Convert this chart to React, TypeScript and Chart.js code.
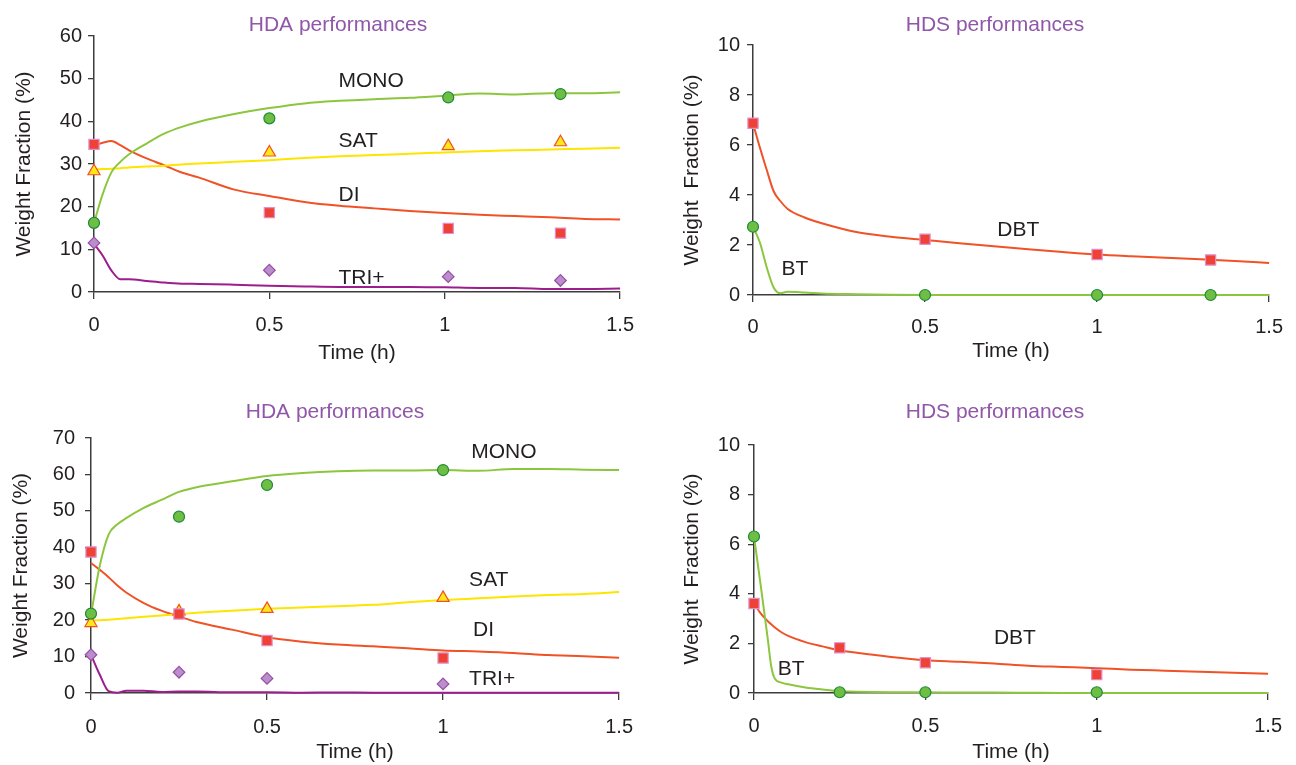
import React, { useEffect, useRef } from "react";
import { Chart, registerables } from "chart.js";
Chart.register(...registerables);

const FONT = "'Liberation Sans', Arial, Helvetica, sans-serif";
const TITLE_COLOR = "#9057a9";
const INK = "#231f20";
const AXIS = "#3c3c3c";

// ---------- shared ticks ----------
const timeTicks = [0, 0.5, 1, 1.5];
const hdaTopYTicks = [0, 10, 20, 30, 40, 50, 60];
const hdaBottomYTicks = [0, 10, 20, 30, 40, 50, 60, 70];
const hdsYTicks = [0, 2, 4, 6, 8, 10];

// ---------- top-left: HDA performances ----------
const hdaTopTime = [0, 0.025, 0.05, 0.075, 0.1, 0.15, 0.2, 0.25, 0.3, 0.4, 0.5, 0.6, 0.7, 0.8, 0.9, 1.0, 1.1, 1.2, 1.3, 1.4, 1.5];
const hdaTopMono = [16.2, 23, 28.1, 30.5, 32.3, 34.8, 37.1, 38.7, 39.9, 41.7, 43.1, 44.2, 44.8, 45.2, 45.5, 46.0, 46.5, 46.3, 46.6, 46.6, 46.8];
const hdaTopSat = [28.7, 28.8, 28.9, 29.0, 29.2, 29.4, 29.6, 29.9, 30.1, 30.5, 30.9, 31.4, 31.8, 32.1, 32.4, 32.7, 33.0, 33.2, 33.4, 33.6, 33.8];
const hdaTopDi = [34.4, 35.0, 35.4, 34.4, 33.2, 31.3, 29.7, 28.0, 26.8, 24.0, 22.5, 21.1, 20.2, 19.6, 19.0, 18.5, 18.1, 17.8, 17.5, 17.1, 17.0];
const hdaTopTri = [11.3, 8.5, 5.0, 3.0, 3.0, 2.6, 2.2, 1.95, 1.9, 1.7, 1.45, 1.3, 1.2, 1.2, 1.2, 1.1, 0.95, 0.95, 0.7, 0.7, 0.8];
const hdaTopExpTime = [0, 0.5, 1.01, 1.33];
const hdaTopExpMono = [16.2, 40.7, 45.6, 46.4];
const hdaTopExpSat = [28.3, 32.7, 34.2, 35.1];
const hdaTopExpDi = [34.6, 18.6, 14.9, 13.8];
const hdaTopExpTri = [11.5, 5.1, 3.6, 2.7];
const hdaTopLabelText = ["MONO", "SAT", "DI", "TRI+"];
const hdaTopLabelX = [0.697, 0.697, 0.697, 0.697];
const hdaTopLabelY = [49.4, 35.4, 22.7, 3.3];

// ---------- top-right: HDS performances ----------
const hdsTopTime = [0, 0.02, 0.04, 0.06, 0.08, 0.1, 0.15, 0.2, 0.3, 0.4, 0.5, 0.6, 0.7, 0.8, 0.9, 1.0, 1.1, 1.2, 1.3, 1.4, 1.5];
const hdsTopDbt = [6.87, 5.9, 5.0, 4.15, 3.75, 3.45, 3.1, 2.87, 2.52, 2.33, 2.2, 2.07, 1.95, 1.83, 1.72, 1.62, 1.55, 1.49, 1.43, 1.36, 1.28];
const hdsTopBt = [2.73, 2.1, 1.1, 0.3, 0.07, 0.13, 0.1, 0.06, 0.03, 0.01, 0, 0, 0, 0, 0, 0, 0, 0, 0, 0, 0];
const hdsTopExpTime = [0, 0.5, 1.0, 1.33];
const hdsTopExpDbt = [6.87, 2.23, 1.62, 1.4];
const hdsTopExpBt = [2.73, 0, 0, 0];
const hdsTopLabelText = ["DBT", "BT"];
const hdsTopLabelX = [0.71, 0.083];
const hdsTopLabelY = [2.6, 1.04];

// ---------- bottom-left: HDA performances ----------
const hdaBottomTime = [0, 0.025, 0.05, 0.075, 0.1, 0.15, 0.2, 0.25, 0.3, 0.4, 0.5, 0.6, 0.7, 0.8, 0.9, 1.0, 1.1, 1.2, 1.3, 1.4, 1.5];
const hdaBottomMono = [21.5, 35, 43.5, 46.3, 48, 50.8, 53, 55.2, 56.5, 58.1, 59.6, 60.4, 60.9, 61.1, 61.1, 61.2, 61.0, 61.5, 61.5, 61.3, 61.2];
const hdaBottomSat = [19.9, 20.0, 20.1, 20.3, 20.5, 20.9, 21.3, 21.7, 22.0, 22.6, 23.1, 23.5, 23.8, 24.2, 24.9, 25.5, 26.0, 26.5, 26.9, 27.2, 27.7];
const hdaBottomDi = [35.7, 33.8, 31.8, 29.5, 27.6, 24.7, 22.6, 21.0, 19.5, 17.4, 15.3, 14.1, 13.3, 12.8, 12.3, 11.7, 11.4, 11.0, 10.4, 10.1, 9.7];
const hdaBottomTri = [10.5, 5.0, 0.5, 0.1, 0.6, 0.6, 0.3, 0.4, 0.4, 0.2, 0.2, 0.1, 0.15, 0.1, 0.1, 0.1, 0.1, 0.1, 0.1, 0.1, 0.1];
const hdaBottomExpTime = [0, 0.25, 0.5, 1.0];
const hdaBottomExpMono = [21.8, 48.4, 57.1, 61.2];
const hdaBottomExpSat = [19.2, 22.4, 23.1, 26.1];
const hdaBottomExpDi = [38.7, 21.7, 14.4, 9.6];
const hdaBottomExpTri = [10.5, 5.7, 4.0, 2.5];
const hdaBottomLabelText = ["MONO", "SAT", "DI", "TRI+"];
const hdaBottomLabelX = [1.08, 1.074, 1.085, 1.074];
const hdaBottomLabelY = [66.2, 31.0, 17.3, 3.8];

// ---------- bottom-right: HDS performances ----------
const hdsBottomTime = [0, 0.02, 0.04, 0.05, 0.06, 0.08, 0.1, 0.15, 0.2, 0.25, 0.3, 0.4, 0.5, 0.6, 0.7, 0.8, 0.9, 1.0, 1.1, 1.2, 1.3, 1.4, 1.5];
const hdsBottomDbt = [3.61, 3.2, 2.9, 2.77, 2.65, 2.45, 2.3, 2.05, 1.88, 1.72, 1.62, 1.45, 1.32, 1.26, 1.19, 1.1, 1.05, 1.0, 0.94, 0.9, 0.86, 0.82, 0.78];
const hdsBottomBt = [6.31, 4.3, 2.2, 1.1, 0.6, 0.42, 0.35, 0.22, 0.14, 0.08, 0.05, 0.03, 0.03, 0.02, 0.02, 0.01, 0, 0, 0, 0, 0, 0, 0];
const hdsBottomExpTime = [0, 0.25, 0.5, 1.0];
const hdsBottomExpDbt = [3.61, 1.82, 1.22, 0.74];
const hdsBottomExpBt = [6.31, 0.03, 0.03, 0.03];
const hdsBottomLabelText = ["DBT", "BT"];
const hdsBottomLabelX = [0.7, 0.069];
const hdsBottomLabelY = [2.22, 0.97];

// ---------- styles ----------
const STY = {
  mono: { line: "#8cc63f", style: "circle", radius: 5.5, fill: "#6fbe44", border: "#1e8a3a", order: 3 },
  sat: { line: "#fde500", style: "triangle", radius: 7, fill: "#ffe81a", border: "#f05022", order: 4 },
  di: { line: "#f05228", style: "rect", radius: 7.2, fill: "#ef4136", border: "#e08fc8", order: 2 },
  tri: { line: "#9c1d8c", style: "rectRot", radius: 5.8, fill: "#b98fcb", border: "#9a4ea8", order: 5 },
};

type Series = { t: number[]; v: number[]; et: number[]; ev: number[]; sty: any };

type Spec = {
  left: number; top: number; w: number; h: number;
  area: { left: number; top: number; right: number; bottom: number };
  title: string; titleX: number; titleY: number;
  yTitle: string; yTitlePad: number; xTitlePad: number;
  xTickPad: number; yTickPad: number;
  yTicks: number[];
  series: Series[];
  labelText: string[]; labelX: number[]; labelY: number[];
};

const specs: Spec[] = [
  {
    left: 0, top: 0, w: 648, h: 382,
    area: { left: 94, top: 36, right: 631, bottom: 292 },
    title: "HDA performances", titleX: 338, titleY: 25,
    yTitle: "Weight Fraction (%)", yTitlePad: 12, xTitlePad: 16,
    xTickPad: 14, yTickPad: 6,
    yTicks: hdaTopYTicks,
    series: [
      { t: hdaTopTime, v: hdaTopMono, et: hdaTopExpTime, ev: hdaTopExpMono, sty: STY.mono },
      { t: hdaTopTime, v: hdaTopSat, et: hdaTopExpTime, ev: hdaTopExpSat, sty: STY.sat },
      { t: hdaTopTime, v: hdaTopDi, et: hdaTopExpTime, ev: hdaTopExpDi, sty: STY.di },
      { t: hdaTopTime, v: hdaTopTri, et: hdaTopExpTime, ev: hdaTopExpTri, sty: STY.tri },
    ],
    labelText: hdaTopLabelText, labelX: hdaTopLabelX, labelY: hdaTopLabelY,
  },
  {
    left: 650, top: 0, w: 646, h: 382,
    area: { left: 103, top: 45, right: 629, bottom: 295 },
    title: "HDS performances", titleX: 345, titleY: 25,
    yTitle: "Weight  Fraction (%)", yTitlePad: 30, xTitlePad: 18,
    xTickPad: 13, yTickPad: 7,
    yTicks: hdsYTicks,
    series: [
      { t: hdsTopTime, v: hdsTopBt, et: hdsTopExpTime, ev: hdsTopExpBt, sty: STY.mono },
      { t: hdsTopTime, v: hdsTopDbt, et: hdsTopExpTime, ev: hdsTopExpDbt, sty: STY.di },
    ],
    labelText: hdsTopLabelText, labelX: hdsTopLabelX, labelY: hdsTopLabelY,
  },
  {
    left: 0, top: 382, w: 648, h: 383,
    area: { left: 91, top: 56, right: 623, bottom: 311 },
    title: "HDA performances", titleX: 335, titleY: 30,
    yTitle: "Weight Fraction (%)", yTitlePad: 9, xTitlePad: 0,
    xTickPad: 15, yTickPad: 10,
    yTicks: hdaBottomYTicks,
    series: [
      { t: hdaBottomTime, v: hdaBottomMono, et: hdaBottomExpTime, ev: hdaBottomExpMono, sty: STY.mono },
      { t: hdaBottomTime, v: hdaBottomSat, et: hdaBottomExpTime, ev: hdaBottomExpSat, sty: STY.sat },
      { t: hdaBottomTime, v: hdaBottomDi, et: hdaBottomExpTime, ev: hdaBottomExpDi, sty: STY.di },
      { t: hdaBottomTime, v: hdaBottomTri, et: hdaBottomExpTime, ev: hdaBottomExpTri, sty: STY.tri },
    ],
    labelText: hdaBottomLabelText, labelX: hdaBottomLabelX, labelY: hdaBottomLabelY,
  },
  {
    left: 650, top: 382, w: 646, h: 383,
    area: { left: 104, top: 63, right: 629, bottom: 311 },
    title: "HDS performances", titleX: 345, titleY: 30,
    yTitle: "Weight  Fraction (%)", yTitlePad: 30, xTitlePad: 0,
    xTickPad: 14, yTickPad: 8,
    yTicks: hdsYTicks,
    series: [
      { t: hdsBottomTime, v: hdsBottomBt, et: hdsBottomExpTime, ev: hdsBottomExpBt, sty: STY.mono },
      { t: hdsBottomTime, v: hdsBottomDbt, et: hdsBottomExpTime, ev: hdsBottomExpDbt, sty: STY.di },
    ],
    labelText: hdsBottomLabelText, labelX: hdsBottomLabelX, labelY: hdsBottomLabelY,
  },
];

const annotate = {
  id: "annotate",
  afterDatasetsDraw(chart: any, _args: any, opts: any) {
    const ctx = chart.ctx;
    const xs = chart.scales.x;
    const ys = chart.scales.y;
    ctx.save();
    ctx.font = `21px ${FONT}`;
    ctx.fillStyle = TITLE_COLOR;
    ctx.textAlign = "center";
    ctx.textBaseline = "middle";
    ctx.fillText(opts.title, opts.titleX, opts.titleY);
    ctx.font = `21px ${FONT}`;
    ctx.fillStyle = INK;
    ctx.textAlign = "left";
    opts.labelText.forEach((txt: string, i: number) => {
      ctx.fillText(txt, xs.getPixelForValue(opts.labelX[i]), ys.getPixelForValue(opts.labelY[i]));
    });
    ctx.restore();
  },
};

function buildConfig(s: Spec): any {
  const lines = s.series.map((se) => ({
    data: se.t.map((t, i) => ({ x: t, y: se.v[i] })),
    showLine: true,
    borderColor: se.sty.line,
    backgroundColor: se.sty.line,
    borderWidth: 2,
    pointRadius: 0,
    pointHoverRadius: 0,
    cubicInterpolationMode: "monotone",
    clip: false,
    order: 10,
  }));
  const pts = s.series.map((se) => ({
    data: se.et.map((t, i) => ({ x: t, y: se.ev[i] })),
    showLine: false,
    pointStyle: se.sty.style,
    pointRadius: se.sty.radius,
    pointHoverRadius: se.sty.radius,
    backgroundColor: se.sty.fill,
    borderColor: se.sty.border,
    pointBackgroundColor: se.sty.fill,
    pointBorderColor: se.sty.border,
    pointBorderWidth: 1.2,
    clip: false,
    order: se.sty.order,
  }));
  const yTicks = s.yTicks;
  return {
    type: "scatter",
    data: { datasets: [...pts, ...lines] },
    options: {
      responsive: false,
      animation: false,
      events: [],
      layout: { padding: { left: 0, top: s.area.top, right: s.w - s.area.right, bottom: 0 } },
      plugins: {
        legend: { display: false },
        tooltip: { enabled: false },
        title: { display: false },
        annotate: {
          title: s.title, titleX: s.titleX, titleY: s.titleY,
          labelText: s.labelText, labelX: s.labelX, labelY: s.labelY,
        },
      },
      scales: {
        x: {
          type: "linear",
          min: timeTicks[0],
          max: timeTicks[timeTicks.length - 1],
          afterBuildTicks: (sc: any) => { sc.ticks = timeTicks.map((v) => ({ value: v })); },
          afterFit: (sc: any) => { sc.height = s.h - s.area.bottom; },
          grid: { drawOnChartArea: false, drawTicks: true, tickLength: 7, color: AXIS, lineWidth: 1.3 },
          border: { display: true, color: AXIS, width: 1.5 },
          ticks: {
            autoSkip: false, maxRotation: 0, padding: s.xTickPad, color: INK,
            font: { family: FONT, size: 20 },
            callback: (v: any) => String(v),
          },
          title: {
            display: true, text: "Time (h)", color: INK,
            font: { family: FONT, size: 21 },
            padding: { top: 0, bottom: s.xTitlePad },
          },
        },
        y: {
          type: "linear",
          min: yTicks[0],
          max: yTicks[yTicks.length - 1],
          afterBuildTicks: (sc: any) => { sc.ticks = yTicks.map((v) => ({ value: v })); },
          afterFit: (sc: any) => { sc.width = s.area.left; },
          grid: { drawOnChartArea: false, drawTicks: true, tickLength: 6, color: AXIS, lineWidth: 1.3 },
          border: { display: true, color: AXIS, width: 1.5 },
          ticks: {
            autoSkip: false, padding: s.yTickPad, color: INK,
            font: { family: FONT, size: 20 },
            callback: (v: any) => String(v),
          },
          title: {
            display: true, text: s.yTitle, color: INK,
            font: { family: FONT, size: 21 },
            padding: { top: s.yTitlePad, bottom: 0 },
          },
        },
      },
    },
    plugins: [annotate],
  };
}

function Panel({ spec }: { spec: Spec }) {
  const ref = useRef<HTMLCanvasElement | null>(null);
  useEffect(() => {
    if (!ref.current) return;
    const chart = new Chart(ref.current, buildConfig(spec));
    return () => chart.destroy();
  }, [spec]);
  return (
    <canvas
      ref={ref}
      width={spec.w}
      height={spec.h}
      style={{ position: "absolute", left: spec.left, top: spec.top, width: spec.w, height: spec.h }}
    />
  );
}

export default function App() {
  return (
    <div style={{ position: "absolute", left: 0, top: 0, width: 1296, height: 765, background: "#fff", overflow: "hidden" }}>
      {specs.map((s, i) => (
        <Panel key={i} spec={s} />
      ))}
    </div>
  );
}
